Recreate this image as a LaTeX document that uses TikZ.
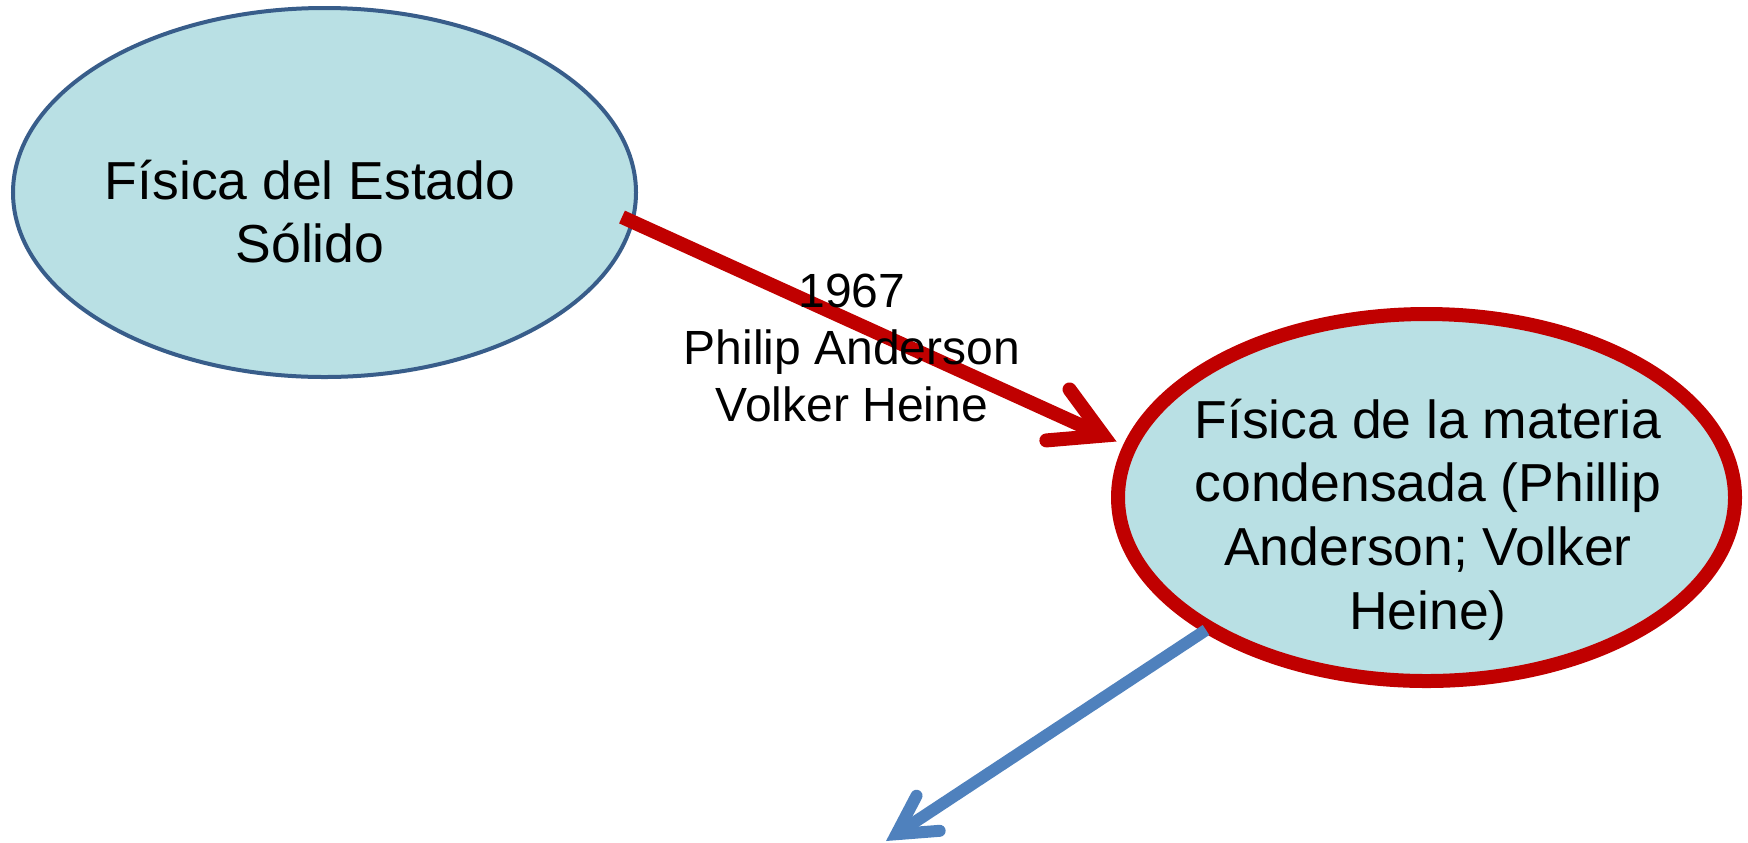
\documentclass[tikz,border=0pt]{standalone}
\usepackage{fontspec}
\setmainfont{Liberation Sans}
\usetikzlibrary{shapes.geometric,arrows.meta,calc}
\definecolor{bubblefill}{RGB}{185,224,228}
\definecolor{outlineblue}{RGB}{56,93,138}
\definecolor{accentred}{RGB}{192,0,0}
\definecolor{linkblue}{RGB}{79,129,189}
\begin{document}
\begin{tikzpicture}[x=0.5pt,y=-0.5pt,
  bubble/.style={ellipse, fill=bubblefill, inner sep=0pt},
  bigtext/.style={align=center, inner sep=0pt, font=\fontsize{26.75pt}{31.8pt}\selectfont},
  linktext/.style={align=center, inner sep=0pt, font=\fontsize{24pt}{28.6pt}\selectfont},
  redlink/.style={draw=accentred, line width=7pt,
    -{Straight Barb[length=25pt,width=28pt,line cap=round,line join=miter]}},
  bluelink/.style={draw=linkblue, line width=6pt,
    -{Straight Barb[length=19pt,width=21pt,line cap=round,line join=miter]}}]
\useasboundingbox (0,0) rectangle (1748,842);

% the two topics
\node[bubble, draw=outlineblue, line width=2pt,
  minimum width=311.5pt, minimum height=184.5pt] (e1) at (324.5,192.5) {};
\node[bubble, draw=accentred, line width=7pt,
  minimum width=308.5pt, minimum height=183.5pt] (e2) at (1426.5,497.5) {};

% connectors
\draw[redlink] ($(e1.center)+(297.5,24.5)$) -- ($(e2.center)+(-310,-56)$);
\coordinate (down) at (886,841);
\draw[bluelink] ($(e2.center)+(-220.5,132.5)$) -- (down);

% texts
\node[bigtext] (e1text) at ($(e1.center)+(-14.5,19)$) {Física del Estado\\Sólido};
\node[bigtext] (e2text) at ($(e2.center)+(1.5,22)$)
  {Física de la materia\\condensada (Phillip\\Anderson; Volker\\Heine)};
\node[linktext] (linklabel) at (852,348) {1967\\Philip Anderson\\Volker Heine};
\end{tikzpicture}
\end{document}
